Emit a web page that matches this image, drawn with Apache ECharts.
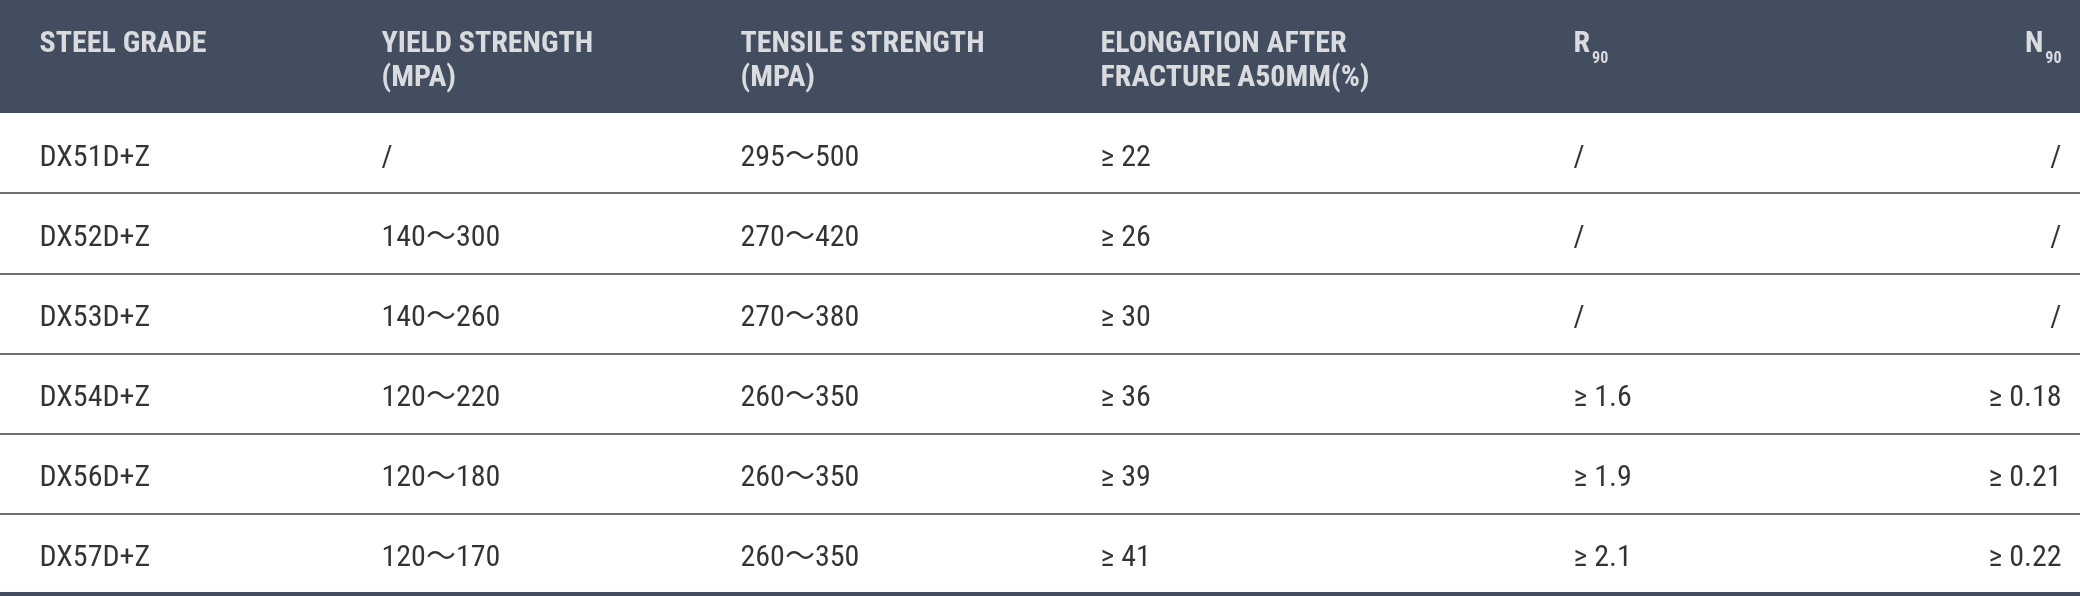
<!DOCTYPE html>
<html>
<head>
<meta charset="utf-8">
<script src="https://cdn.jsdelivr.net/npm/echarts@6/dist/echarts.min.js"></script>
<style>
  html, body { margin: 0; padding: 0; background: #fff; }
  #main { width: 2080px; height: 596px; }
</style>
</head>
<body>
<div id="main"></div>
<script>
// table content
var headers = ['STEEL GRADE', 'YIELD STRENGTH\n(MPA)', 'TENSILE STRENGTH\n(MPA)', 'ELONGATION AFTER\nFRACTURE A50MM(%)', 'R90', 'N90'];
var grades = ['DX51D+Z', 'DX52D+Z', 'DX53D+Z', 'DX54D+Z', 'DX56D+Z', 'DX57D+Z'];
var yieldStrength = ['/', '140～300', '140～260', '120～220', '120～180', '120～170'];
var tensileStrength = ['295～500', '270～420', '270～380', '260～350', '260～350', '260～350'];
var elongation = ['≥ 22', '≥ 26', '≥ 30', '≥ 36', '≥ 39', '≥ 41'];
var r90 = ['/', '/', '/', '≥ 1.6', '≥ 1.9', '≥ 2.1'];
var n90 = ['/', '/', '/', '≥ 0.18', '≥ 0.21', '≥ 0.22'];

// layout only (x anchor of each column, last one is right aligned)
var colX = [39, 381, 740, 1100, 1573, 2062];

var headColor = '#434d60';
var lineColor = '#6f6f6f';
var fontStack = "'Roboto Condensed', 'Liberation Sans Narrow', Roboto, 'Noto Sans CJK SC', sans-serif";

var columns = [grades, yieldStrength, tensileStrength, elongation, r90, n90];

var myChart = echarts.init(document.getElementById('main'), null, { renderer: 'canvas' });

function headFormatter(p) {
    var t = p.value[2];
    // R90 / N90 get a subscript
    if (/^[RN]90$/.test(t)) return '{h|' + t.charAt(0) + '}{s|90}';
    return '{h|' + t.split('\n').join('}\n{h|') + '}';
}

var series = [];

// header cells
headers.forEach(function (h, c) {
    var last = c == headers.length - 1;
    series.push({
        type: 'scatter',
        xAxisIndex: 0,
        yAxisIndex: 0,
        symbolSize: 1,
        itemStyle: { color: 'rgba(0,0,0,0)' },
        silent: true,
        data: [[colX[c], 0, h]],
        label: {
            show: true,
            position: last ? 'left' : 'right',
            distance: 0,
            verticalAlign: 'top',
            offset: [0, -29],
            formatter: headFormatter,
            rich: {
                h: { color: '#fff', fontFamily: fontStack, fontWeight: 'bold', fontSize: 30, lineHeight: 34 },
                s: { color: '#fff', fontFamily: fontStack, fontWeight: 'bold', fontSize: 16, lineHeight: 6, padding: [28, 0, 0, 2] }
            }
        }
    });
});

// body cells
columns.forEach(function (col, c) {
    var last = c == columns.length - 1;
    series.push({
        type: 'scatter',
        xAxisIndex: 1,
        yAxisIndex: 1,
        symbolSize: 1,
        itemStyle: { color: 'rgba(0,0,0,0)' },
        silent: true,
        data: col.map(function (v, r) { return [colX[c], r, v]; }),
        label: {
            show: true,
            position: last ? 'left' : 'right',
            distance: 0,
            offset: [0, 5],
            formatter: function (p) { return p.value[2]; },
            color: '#000',
            fontFamily: fontStack,
            fontSize: 30
        }
    });
});

var option = {
    animation: false,
    backgroundColor: '#fff',
    grid: [
        { left: 0, right: 0, top: 0, height: 113, show: true, backgroundColor: headColor, borderWidth: 0 },
        { left: 0, right: 0, top: 113, bottom: 2 }
    ],
    xAxis: [
        { gridIndex: 0, type: 'value', min: 0, max: 2080, show: false },
        {
            gridIndex: 1, type: 'value', min: 0, max: 2080,
            axisLine: { show: true, lineStyle: { color: headColor, width: 4 } },
            axisTick: { show: false },
            axisLabel: { show: false },
            splitLine: { show: false }
        }
    ],
    yAxis: [
        { gridIndex: 0, type: 'category', data: ['head'], show: false },
        {
            gridIndex: 1, type: 'category', data: grades, inverse: true,
            axisLine: { show: false },
            axisTick: { show: false },
            axisLabel: { show: false },
            splitLine: { show: true, showMinLine: false, showMaxLine: false, lineStyle: { color: lineColor, width: 2 } }
        }
    ],
    series: series
};

myChart.setOption(option);
</script>
</body>
</html>
